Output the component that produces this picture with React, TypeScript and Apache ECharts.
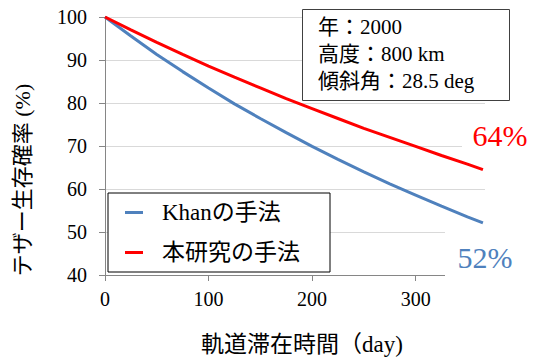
import React, { useEffect, useRef } from "react";
import * as echarts from "echarts";

const days = [0, 25, 50, 75, 100, 125, 150, 175, 200, 225, 250, 275, 300, 325, 350, 365];
const khanSurvival = [100, 95.6, 91.3, 87.3, 83.5, 79.8, 76.4, 73.1, 69.9, 66.9, 64.0, 61.2, 58.6, 56.0, 53.5, 52.1];
const proposedSurvival = [100, 97.0, 94.1, 91.3, 88.6, 86.0, 83.5, 81.0, 78.7, 76.4, 74.1, 72.0, 69.9, 67.8, 65.8, 64.5];
const seriesNames = ["Khanの手法", "本研究の手法"];
const infoLines = ["年：2000", "高度：800 km", "傾斜角：28.5 deg"];
const endLabels = ["52%", "64%"];
const xAxisTitle = "軌道滞在時間（day)";
const yAxisTitle = "テザー生存確率 (%)";

const FONT = "Liberation Serif, Noto Sans CJK JP, serif";
const LATIN = "Liberation Serif, serif";
const BLUE = "#4f81bd";
const RED = "#ff0000";

export default function App() {
  const ref = useRef<HTMLDivElement>(null);
  useEffect(() => {
    if (!ref.current) return;
    const chart = echarts.init(ref.current, undefined, { renderer: "svg" });
    const toPairs = (vals: number[]) => days.map((d, i) => [d, vals[i]]);
    const textStyleBase = { fontFamily: FONT, fill: "#000" };
    chart.setOption({
      animation: false,
      grid: { left: 105, top: 17, right: 50, bottom: 88 },
      xAxis: {
        type: "value",
        min: 0,
        max: 367,
        interval: 100,
        axisLine: { show: true, lineStyle: { color: "#868686", width: 1 } },
        axisTick: { show: true, length: 6, lineStyle: { color: "#868686" } },
        axisLabel: {
          fontSize: 20,
          fontFamily: LATIN,
          color: "#000",
          margin: 14,
          formatter: (v: number) => (v % 100 === 0 ? String(v) : ""),
        },
        splitLine: { show: false },
        name: xAxisTitle,
        nameLocation: "middle",
        nameGap: 58,
        nameTextStyle: { fontSize: 23, fontFamily: FONT, color: "#000", padding: [0, 0, 0, 14] },
      },
      yAxis: {
        type: "value",
        min: 40,
        max: 100,
        interval: 10,
        axisLine: { show: true, lineStyle: { color: "#868686", width: 1 } },
        axisTick: { show: true, length: 6, lineStyle: { color: "#868686" } },
        axisLabel: { fontSize: 20, fontFamily: LATIN, color: "#000", margin: 18 },
        splitLine: { show: true, lineStyle: { color: "#d9d9d9", width: 1 } },
      },
      legend: {
        data: seriesNames,
        orient: "vertical",
        left: 108,
        top: 193,
        icon: "rect",
        itemWidth: 18,
        itemHeight: 3,
        itemGap: 17,
        padding: [8, 30, 8, 17],
        backgroundColor: "#fff",
        borderColor: "#000",
        borderWidth: 1,
        borderRadius: 0,
        textStyle: { fontSize: 23, fontFamily: FONT, color: "#000", padding: [0, 0, 0, 14] },
      },
      series: [
        {
          name: seriesNames[0],
          type: "line",
          data: toPairs(khanSurvival),
          showSymbol: false,
          symbol: "none",
          color: BLUE,
          lineStyle: { width: 3, color: BLUE },
        },
        {
          name: seriesNames[1],
          type: "line",
          data: toPairs(proposedSurvival),
          showSymbol: false,
          symbol: "none",
          color: RED,
          lineStyle: { width: 3, color: RED },
        },
      ],
      graphic: [
        {
          type: "rect",
          z: 100,
          shape: { x: 302.5, y: 9.5, width: 207, height: 91 },
          style: { fill: "#fff", stroke: "#404040", lineWidth: 1 },
        },
        ...infoLines.map((t, i) => ({
          type: "text",
          z: 101,
          x: 318,
          y: 27 + 27 * i,
          style: {
            ...textStyleBase,
            text: t,
            fontSize: 21,
            align: "left",
            textAlign: "left",
            verticalAlign: "middle",
            textVerticalAlign: "middle",
          },
        })),
        {
          type: "rect",
          z: 100,
          shape: { x: 462, y: 112, width: 73, height: 37 },
          style: { fill: "#fff" },
        },
        {
          type: "rect",
          z: 100,
          shape: { x: 445, y: 228, width: 90, height: 56 },
          style: { fill: "#fff" },
        },
        {
          type: "text",
          z: 101,
          x: 485,
          y: 257,
          style: {
            text: endLabels[0],
            fontFamily: LATIN,
            fontSize: 30,
            fill: BLUE,
            align: "center",
            textAlign: "center",
            verticalAlign: "middle",
            textVerticalAlign: "middle",
          },
        },
        {
          type: "text",
          z: 101,
          x: 500,
          y: 135,
          style: {
            text: endLabels[1],
            fontFamily: LATIN,
            fontSize: 30,
            fill: RED,
            align: "center",
            textAlign: "center",
            verticalAlign: "middle",
            textVerticalAlign: "middle",
          },
        },
        {
          type: "text",
          z: 101,
          x: 22,
          y: 180,
          rotation: Math.PI / 2,
          style: {
            ...textStyleBase,
            text: yAxisTitle,
            fontSize: 22,
            align: "center",
            textAlign: "center",
            verticalAlign: "middle",
            textVerticalAlign: "middle",
          },
        },
      ],
    });
    return () => chart.dispose();
  }, []);
  return (
    <div
      ref={ref}
      style={{ position: "absolute", left: 0, top: 0, width: 535, height: 363, background: "#fff" }}
    />
  );
}
